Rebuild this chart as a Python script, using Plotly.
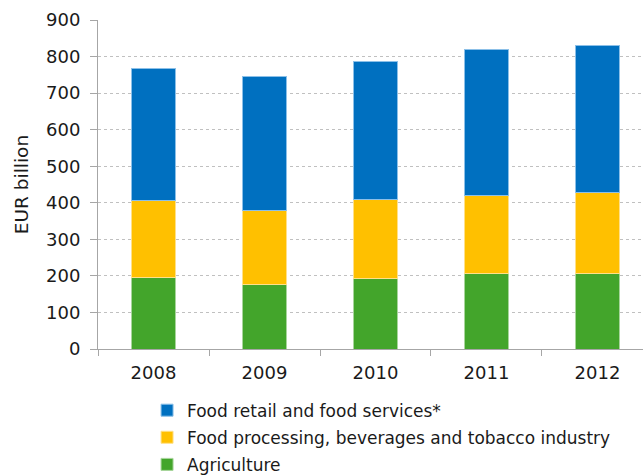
import plotly.graph_objects as go

years = ["2008", "2009", "2010", "2011", "2012"]
agriculture = [196, 177, 193, 207, 207]
food_processing = [209, 203, 217, 214, 220]
food_retail = [363, 365, 376, 398, 402]

series = [
    ("Agriculture", agriculture, "#43A52B", "#A8D59C", 3),
    ("Food processing, beverages and tobacco industry", food_processing, "#FFC000", "#FFE08A", 2),
    ("Food retail and food services*", food_retail, "#0070C0", "#8CC0E8", 1),
]

fig = go.Figure()
for name, vals, col, edge, rank in series:
    fig.add_trace(go.Bar(
        x=years, y=vals, name=name, legendgroup=name, legendrank=rank,
        marker=dict(color=col, line=dict(color=edge, width=1)),
        width=0.4,
    ))

axis_col = "#A6A6A6"
fig.update_layout(
    width=643, height=475, autosize=False,
    barmode="stack",
    margin=dict(l=98, r=0, t=20, b=126, pad=0, autoexpand=False),
    plot_bgcolor="white", paper_bgcolor="white",
    font=dict(family="DejaVu Sans, Verdana, sans-serif", size=18, color="#1a1a1a"),
    xaxis=dict(
        type="category", range=[-0.5, 4.41],
        tickson="boundaries", ticks="outside", ticklen=6, tickcolor=axis_col,
        showline=True, linecolor=axis_col, linewidth=1,
        showgrid=False, tickfont=dict(size=18), ticklabelstandoff=7,
    ),
    yaxis=dict(
        range=[0, 900], dtick=100, tick0=0,
        showgrid=True, gridcolor="#C0C0C0", griddash="dot", gridwidth=1,
        showline=True, linecolor=axis_col, linewidth=1,
        ticks="outside", ticklen=7, tickcolor=axis_col,
        zeroline=False, tickfont=dict(size=18), ticklabelstandoff=6,
        title=dict(text="EUR billion", font=dict(size=18.5), standoff=12),
    ),
    showlegend=True,
    legend=dict(
        orientation="v", x=0.09, y=-0.1326, xanchor="left", yanchor="top",
        font=dict(size=17), bgcolor="rgba(0,0,0,0)", itemwidth=30,
        traceorder="grouped", tracegroupgap=2,
    ),
)

fig.write_html("out.html")
